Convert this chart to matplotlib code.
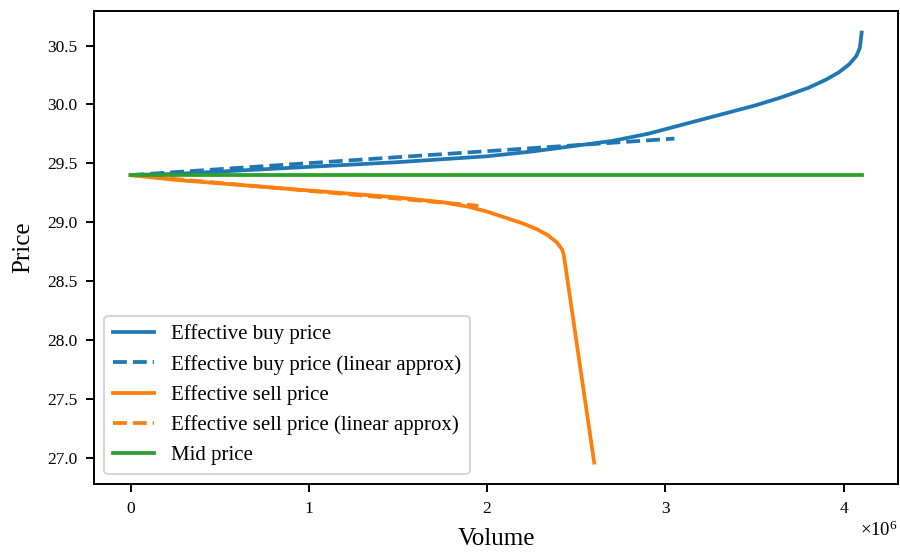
import matplotlib
matplotlib.use("Agg")
import matplotlib.pyplot as plt
from matplotlib.ticker import ScalarFormatter

plt.rcParams["font.family"] = ["Liberation Serif", "DejaVu Serif"]
plt.rcParams["mathtext.fontset"] = "custom"
plt.rcParams["mathtext.rm"] = "Liberation Serif"

# effective buy price vs traded volume
buy_volume = [0, 0.25e6, 0.5e6, 0.75e6, 1.0e6, 1.25e6, 1.5e6, 1.75e6, 2.0e6, 2.25e6,
              2.5e6, 2.7e6, 2.9e6, 3.1e6, 3.3e6, 3.5e6, 3.65e6, 3.8e6, 3.9e6, 3.97e6,
              4.03e6, 4.07e6, 4.09e6, 4.1e6]
buy_price = [29.40, 29.41, 29.43, 29.45, 29.47, 29.49, 29.51, 29.535, 29.56, 29.60,
             29.65, 29.69, 29.75, 29.83, 29.91, 29.99, 30.06, 30.14, 30.21, 30.27,
             30.34, 30.41, 30.48, 30.61]

# effective sell price vs traded volume
sell_volume = [0, 0.25e6, 0.5e6, 0.75e6, 1.0e6, 1.25e6, 1.5e6, 1.75e6, 1.9e6, 2.0e6,
               2.1e6, 2.2e6, 2.28e6, 2.34e6, 2.39e6, 2.42e6, 2.43e6, 2.60e6]
sell_price = [29.40, 29.36, 29.33, 29.30, 29.27, 29.24, 29.21, 29.17, 29.13, 29.09,
              29.04, 28.99, 28.94, 28.89, 28.83, 28.77, 28.72, 26.96]

# first-order approximations
buy_lin_volume = [0, 3.05e6]
buy_lin_price = [29.40, 29.71]
sell_lin_volume = [0, 1.95e6]
sell_lin_price = [29.40, 29.14]

mid_volume = [0, 4.1e6]
mid_price = [29.40, 29.40]

fig = plt.figure(figsize=(9, 5.52), dpi=100)
ax = fig.add_axes([0.1044, 0.123, 0.8936, 0.857])

lw = 2.7
ax.plot(buy_volume, buy_price, color="#1f77b4", lw=lw, label="Effective buy price")
ax.plot(buy_lin_volume, buy_lin_price, color="#1f77b4", lw=lw, ls="--",
        label="Effective buy price (linear approx)")
ax.plot(sell_volume, sell_price, color="#ff7f0e", lw=lw, label="Effective sell price")
ax.plot(sell_lin_volume, sell_lin_price, color="#ff7f0e", lw=lw, ls="--",
        label="Effective sell price (linear approx)")
ax.plot(mid_volume, mid_price, color="#2ca02c", lw=lw, label="Mid price")

ax.set_xlabel("Volume", fontsize=18, labelpad=8)
ax.set_ylabel("Price", fontsize=18, labelpad=9)
ax.set_yticks([27.0, 27.5, 28.0, 28.5, 29.0, 29.5, 30.0, 30.5])

fmt = ScalarFormatter(useMathText=True)
fmt.set_powerlimits((0, 0))
ax.xaxis.set_major_formatter(fmt)
ax.xaxis.get_offset_text().set_fontsize(13.5)

ax.tick_params(axis="both", labelsize=12.5, direction="out", length=6, width=1.4, pad=6)

for spine in ax.spines.values():
    spine.set_linewidth(1.4)
    spine.set_color("black")

leg = ax.legend(loc="lower left", fontsize=15, framealpha=0.8, handlelength=2.0)
leg.get_frame().set_linewidth(1.5)

fig.savefig("out.png", dpi=100)
